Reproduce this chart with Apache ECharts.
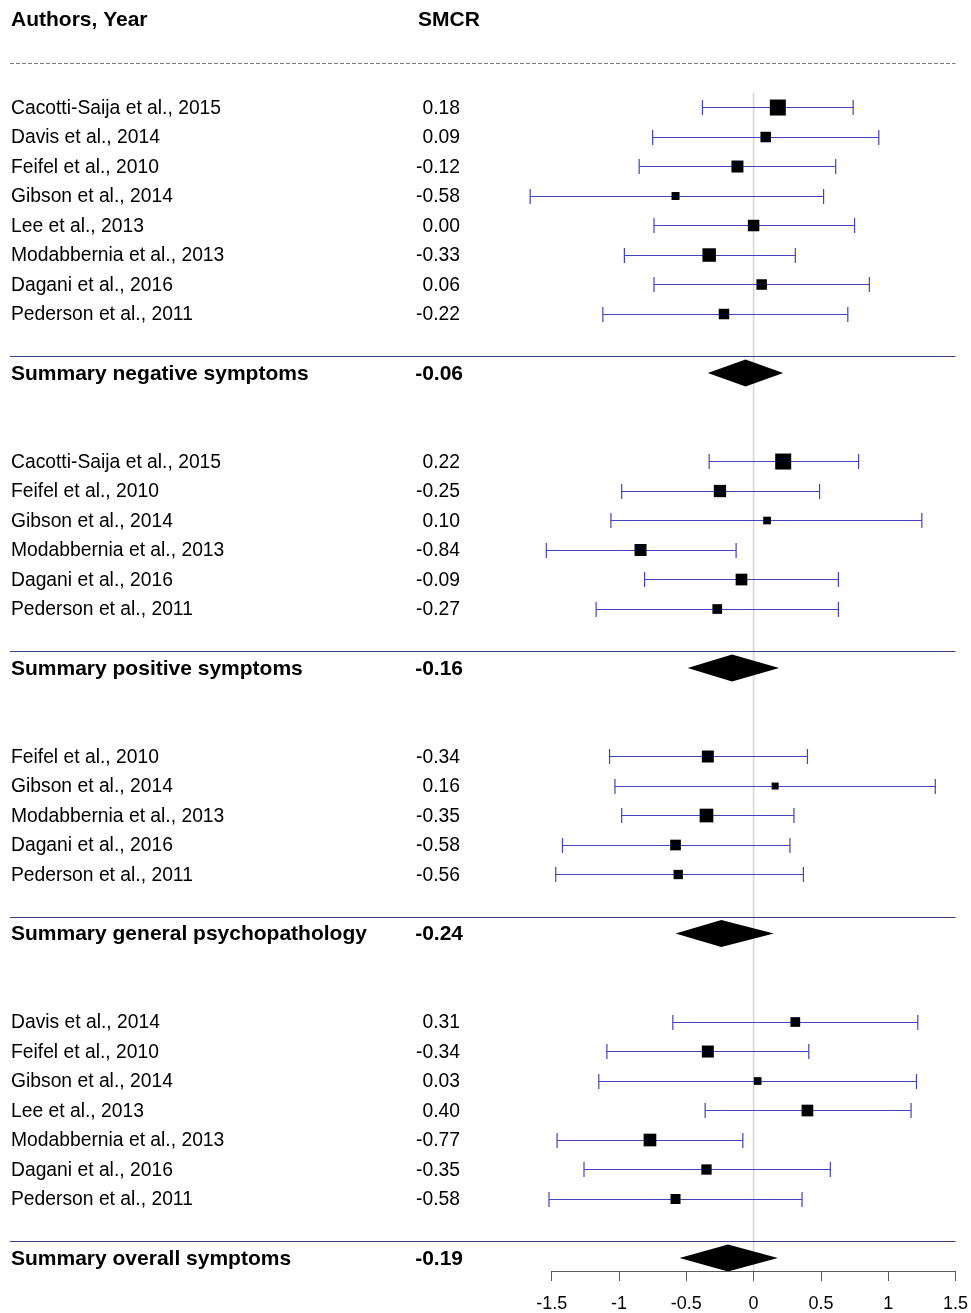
<!DOCTYPE html>
<html>
<head>
<meta charset="utf-8">
<script src="https://cdn.jsdelivr.net/npm/echarts@6/dist/echarts.min.js"></script>
<style>
  html, body { margin: 0; padding: 0; background: #fff; }
  #chart { width: 971px; height: 1313px; }
</style>
</head>
<body>
<div id="chart"></div>
<script>
// ---------------- DATA ----------------
const headerLabels = ["Authors, Year", "SMCR"];

// Negative symptoms
const studiesNeg = ["Cacotti-Saija et al., 2015", "Davis et al., 2014", "Feifel et al., 2010", "Gibson et al., 2014",
  "Lee et al., 2013", "Modabbernia et al., 2013", "Dagani et al., 2016", "Pederson et al., 2011"];
const smcrNeg  = [0.18, 0.09, -0.12, -0.58, 0.00, -0.33, 0.06, -0.22];
const lowerNeg = [-0.38, -0.75, -0.85, -1.66, -0.74, -0.96, -0.74, -1.12];
const upperNeg = [0.74, 0.93, 0.61, 0.52, 0.75, 0.31, 0.86, 0.70];
const weightNeg = [16, 10.5, 12, 8, 11.5, 13.5, 10.5, 10.5];
const summaryNeg = { label: "Summary negative symptoms", est: -0.06, lower: -0.34, upper: 0.22 };

// Positive symptoms
const studiesPos = ["Cacotti-Saija et al., 2015", "Feifel et al., 2010", "Gibson et al., 2014",
  "Modabbernia et al., 2013", "Dagani et al., 2016", "Pederson et al., 2011"];
const smcrPos  = [0.22, -0.25, 0.10, -0.84, -0.09, -0.27];
const lowerPos = [-0.33, -0.98, -1.06, -1.54, -0.81, -1.17];
const upperPos = [0.78, 0.49, 1.25, -0.13, 0.63, 0.63];
const weightPos = [16, 12.3, 7.7, 12, 11.7, 9.7];
const summaryPos = { label: "Summary positive symptoms", est: -0.16, lower: -0.49, upper: 0.19 };

// General psychopathology
const studiesGen = ["Feifel et al., 2010", "Gibson et al., 2014", "Modabbernia et al., 2013",
  "Dagani et al., 2016", "Pederson et al., 2011"];
const smcrGen  = [-0.34, 0.16, -0.35, -0.58, -0.56];
const lowerGen = [-1.07, -1.03, -0.98, -1.42, -1.47];
const upperGen = [0.40, 1.35, 0.30, 0.27, 0.37];
const weightGen = [12, 7, 13.7, 10.7, 9.3];
const summaryGen = { label: "Summary general psychopathology", est: -0.24, lower: -0.58, upper: 0.15 };

// Overall symptoms
const studiesAll = ["Davis et al., 2014", "Feifel et al., 2010", "Gibson et al., 2014", "Lee et al., 2013",
  "Modabbernia et al., 2013", "Dagani et al., 2016", "Pederson et al., 2011"];
const smcrAll  = [0.31, -0.34, 0.03, 0.40, -0.77, -0.35, -0.58];
const lowerAll = [-0.60, -1.09, -1.15, -0.36, -1.46, -1.26, -1.52];
const upperAll = [1.22, 0.41, 1.21, 1.17, -0.08, 0.57, 0.36];
const weightAll = [9.7, 12, 7.7, 11.7, 12.7, 10.3, 10];
const summaryAll = { label: "Summary overall symptoms", est: -0.19, lower: -0.55, upper: 0.18 };

const xTicks = [-1.5, -1, -0.5, 0, 0.5, 1, 1.5];

// ---------------- LAYOUT / STYLE ----------------
const FONT = '"Liberation Sans", Arial, sans-serif';
const REG_FONT = '19.3px ' + FONT;
const BOLD_FONT = 'bold 21px ' + FONT;
const NAME_X = 11;
const VALUE_X = 460;
const VALUE_X_BOLD = 463;
const HEADER_VALUE_X = 418;
const LINE_LEFT = 10;
const CI_COLOR = '#4343bd';
const SEP_COLOR = '#3d3d7e';
const CAP = 7.5;
const DIAMOND_HALF = 13.5;

const groups = [
  { names: studiesNeg, est: smcrNeg, lo: lowerNeg, hi: upperNeg, w: weightNeg, sum: summaryNeg },
  { names: studiesPos, est: smcrPos, lo: lowerPos, hi: upperPos, w: weightPos, sum: summaryPos },
  { names: studiesGen, est: smcrGen, lo: lowerGen, hi: upperGen, w: weightGen, sum: summaryGen },
  { names: studiesAll, est: smcrAll, lo: lowerAll, hi: upperAll, w: weightAll, sum: summaryAll }
];

const fmt = v => (Math.abs(v) < 0.005 ? 0 : v).toFixed(2);
const crisp = v => Math.round(v - 0.5) + 0.5;

// Build row layout
const textRows = [{ row: 0, label: headerLabels[0], value: headerLabels[1], bold: true, header: true }];
const ciData = [];
const diamondData = [];
const sepData = [[1.5, 1]]; // dashed line under header
let r = 3;
groups.forEach(g => {
  g.names.forEach((n, i) => {
    textRows.push({ row: r, label: n, value: fmt(g.est[i]), bold: false });
    ciData.push([g.lo[i], g.hi[i], g.est[i], r, g.w[i]]);
    r++;
  });
  const sRow = r + 1;
  sepData.push([sRow - 0.55, 0]);
  textRows.push({ row: sRow, label: g.sum.label, value: fmt(g.sum.est), bold: true });
  diamondData.push([g.sum.lower, g.sum.upper, g.sum.est, sRow]);
  r = sRow + 3;
});

const Y_MIN = -0.645, Y_MAX = 42.44;

const chart = echarts.init(document.getElementById('chart'), null, { renderer: 'canvas' });

const option = {
  animation: false,
  backgroundColor: '#ffffff',
  grid: { left: 551.7, right: 13.3, top: 0, bottom: 42, containLabel: false },
  xAxis: {
    type: 'value', min: -1.5, max: 1.5, interval: 0.5,
    axisLine: { show: true, onZero: false, lineStyle: { color: '#5a5a5a', width: 1 } },
    axisTick: { show: true, length: 10, lineStyle: { color: '#5a5a5a', width: 1 } },
    axisLabel: { color: '#000', fontSize: 18, fontFamily: FONT, margin: 24,
      formatter: v => String(xTicks.find(t => Math.abs(t - v) < 1e-9) ?? v) },
    splitLine: { show: false }
  },
  yAxis: { type: 'value', inverse: true, min: Y_MIN, max: Y_MAX, show: false, splitLine: { show: false } },
  series: [
    { // vertical reference line at 0
      type: 'custom', z: 1, silent: true,
      data: [[0, 2.5]],
      renderItem: (params, api) => {
        const a = api.coord([api.value(0), api.value(1)]);
        const b = api.coord([api.value(0), Y_MAX]);
        return { type: 'line', shape: { x1: a[0], y1: a[1], x2: b[0], y2: b[1] },
          style: { stroke: '#d6d6d6', lineWidth: 1.6 } };
      }
    },
    { // separators
      type: 'custom', z: 2, silent: true,
      data: sepData,
      renderItem: (params, api) => {
        const y = crisp(api.coord([0, api.value(0)])[1]);
        const xr = api.coord([1.5, 0])[0];
        const dashed = api.value(1) === 1;
        return { type: 'line', shape: { x1: LINE_LEFT, y1: y, x2: xr, y2: y },
          style: dashed ? { stroke: '#7a7a7a', lineWidth: 1, lineDash: [4, 2] } : { stroke: SEP_COLOR, lineWidth: 1.2 } };
      }
    },
    { // study CIs and boxes
      type: 'custom', z: 3, silent: true,
      data: ciData,
      renderItem: (params, api) => {
        const row = api.value(3);
        const pL = api.coord([api.value(0), row]);
        const pH = api.coord([api.value(1), row]);
        const pE = api.coord([api.value(2), row]);
        const y = crisp(pE[1]);
        const s = api.value(4);
        const st = { stroke: CI_COLOR, lineWidth: 1.2 };
        return { type: 'group', children: [
          { type: 'line', shape: { x1: pL[0], y1: y, x2: pH[0], y2: y }, style: st },
          { type: 'line', shape: { x1: pL[0], y1: y - CAP, x2: pL[0], y2: y + CAP }, style: st },
          { type: 'line', shape: { x1: pH[0], y1: y - CAP, x2: pH[0], y2: y + CAP }, style: st },
          { type: 'rect', shape: { x: pE[0] - s / 2, y: pE[1] - s / 2, width: s, height: s }, style: { fill: '#000' } }
        ] };
      }
    },
    { // summary diamonds
      type: 'custom', z: 4, silent: true,
      data: diamondData,
      renderItem: (params, api) => {
        const row = api.value(3);
        const pL = api.coord([api.value(0), row]);
        const pH = api.coord([api.value(1), row]);
        const pE = api.coord([api.value(2), row]);
        return { type: 'polygon', shape: { points: [
          [pL[0], pL[1]], [pE[0], pE[1] - DIAMOND_HALF], [pH[0], pH[1]], [pE[0], pE[1] + DIAMOND_HALF]
        ] }, style: { fill: '#000' } };
      }
    },
    { // text columns
      type: 'custom', z: 5, silent: true,
      data: textRows.map(t => [0, t.row]),
      renderItem: (params, api) => {
        const t = textRows[params.dataIndex];
        const y = api.coord([0, api.value(1)])[1] + 0.8;
        const font = t.bold ? BOLD_FONT : REG_FONT;
        const vx = t.header ? HEADER_VALUE_X : (t.bold ? VALUE_X_BOLD : VALUE_X);
        const va = t.header ? 'left' : 'right';
        return { type: 'group', children: [
          { type: 'text', style: { x: NAME_X, y: y, text: t.label, font: font, fill: '#000',
              textAlign: 'left', textVerticalAlign: 'middle', align: 'left', verticalAlign: 'middle' } },
          { type: 'text', style: { x: vx, y: y, text: t.value, font: font, fill: '#000',
              textAlign: va, textVerticalAlign: 'middle', align: va, verticalAlign: 'middle' } }
        ] };
      }
    }
  ]
};

chart.setOption(option);
</script>
</body>
</html>
